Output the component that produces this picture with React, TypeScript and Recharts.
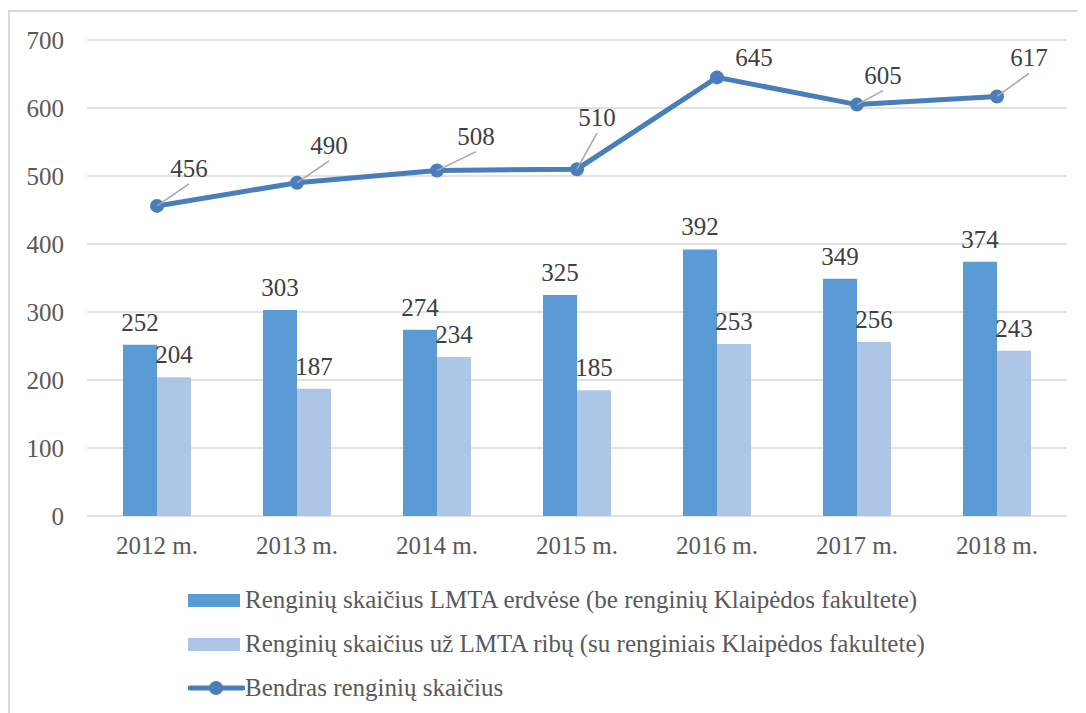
import React from 'react'
import { ComposedChart, Bar, Line, XAxis, YAxis, CartesianGrid, Legend, LabelList } from 'recharts'

const years = ['2012 m.', '2013 m.', '2014 m.', '2015 m.', '2016 m.', '2017 m.', '2018 m.']
const inside = [252, 303, 274, 325, 392, 349, 374]
const outside = [204, 187, 234, 185, 253, 256, 243]
const total = [456, 490, 508, 510, 645, 605, 617]
const yTicks = [0, 100, 200, 300, 400, 500, 600, 700]

const seriesNames = [
  'Renginių skaičius LMTA erdvėse (be renginių Klaipėdos fakultete)',
  'Renginių skaičius už LMTA ribų (su renginiais Klaipėdos fakultete)',
  'Bendras renginių skaičius',
]

// where Excel put each line label, relative to its point: [dx, dy, leader line]
const lineLabelPos: [number, number, boolean][] = [
  [32, -38, true],
  [32, -38, true],
  [39, -35, true],
  [20, -52, true],
  [37, -20, false],
  [26, -30, true],
  [32, -39, true],
]

const font = '"Liberation Serif", serif'
const darkBlue = '#5b9bd5'
const lightBlue = '#adc6e6'
const lineBlue = '#4a7ebb'

const App = () => {
  const data: any = []
  years.map((y, i) => {
    data.push({ name: y, inside: inside[i], outside: outside[i], total: total[i] })
  })

  const renderLineLabel = (props: any) => {
    const { x, y, value, index } = props
    const [dx, dy, leader] = lineLabelPos[index]
    return (
      <g>
        {leader && <line x1={x} y1={y} x2={x + dx} y2={y + dy + 16} stroke="#a6a6a6" strokeWidth={1.5} />}
        <text x={x + dx} y={y + dy + 9} textAnchor="middle" fontFamily={font} fontSize={25} fill="#404040">
          {value}
        </text>
      </g>
    )
  }

  const renderLegend = () => (
    <div style={{ height: 142, paddingLeft: 178, paddingTop: 16, boxSizing: 'border-box', fontFamily: font, fontSize: 25, color: '#595959' }}>
      <div style={{ height: 44, display: 'flex', alignItems: 'center' }}>
        <span style={{ width: 52, height: 13, background: darkBlue, marginRight: 5 }} />
        {seriesNames[0]}
      </div>
      <div style={{ height: 44, display: 'flex', alignItems: 'center' }}>
        <span style={{ width: 52, height: 13, background: lightBlue, marginRight: 5 }} />
        {seriesNames[1]}
      </div>
      <div style={{ height: 44, display: 'flex', alignItems: 'center' }}>
        <svg width={57} height={16} style={{ marginRight: 0 }}>
          <line x1={2} y1={8} x2={55} y2={8} stroke={lineBlue} strokeWidth={5} strokeLinecap="round" />
          <circle cx={28} cy={8} r={7} fill={lineBlue} />
        </svg>
        {seriesNames[2]}
      </div>
    </div>
  )

  return (
    <div style={{ width: 1090, height: 705, border: '2px solid #d9d9d9', boxSizing: 'border-box', marginTop: 2 }}>
      <ComposedChart
        width={1076}
        height={700}
        data={data}
        barGap={0}
        margin={{ top: 28, right: 19, left: 0, bottom: 8 }}
      >
        <CartesianGrid vertical={false} stroke="#d9d9d9" strokeWidth={1.5} />
        <XAxis
          dataKey="name"
          axisLine={false}
          tickLine={false}
          tickSize={0}
          tickMargin={20}
          height={46}
          tick={{ fontFamily: font, fontSize: 25, fill: '#595959' }}
        />
        <YAxis
          domain={[0, 700]}
          ticks={yTicks}
          axisLine={false}
          tickLine={false}
          tickSize={0}
          tickMargin={23}
          width={77}
          tick={{ fontFamily: font, fontSize: 25, fill: '#595959' }}
        />
        <Legend verticalAlign="bottom" wrapperStyle={{ left: 0, width: 1076 }} content={renderLegend} />
        <Bar dataKey="inside" name={seriesNames[0]} fill={darkBlue} barSize={34} isAnimationActive={false}>
          <LabelList dataKey="inside" position="top" offset={14} style={{ fontFamily: font, fontSize: 25, fill: '#404040' }} />
        </Bar>
        <Bar dataKey="outside" name={seriesNames[1]} fill={lightBlue} barSize={34} isAnimationActive={false}>
          <LabelList dataKey="outside" position="top" offset={14} style={{ fontFamily: font, fontSize: 25, fill: '#404040' }} />
        </Bar>
        <Line
          dataKey="total"
          name={seriesNames[2]}
          stroke={lineBlue}
          strokeWidth={5}
          dot={{ r: 7, fill: lineBlue, stroke: 'none' }}
          activeDot={false}
          isAnimationActive={false}
        >
          <LabelList dataKey="total" content={renderLineLabel} />
        </Line>
      </ComposedChart>
    </div>
  )
}

export default App
